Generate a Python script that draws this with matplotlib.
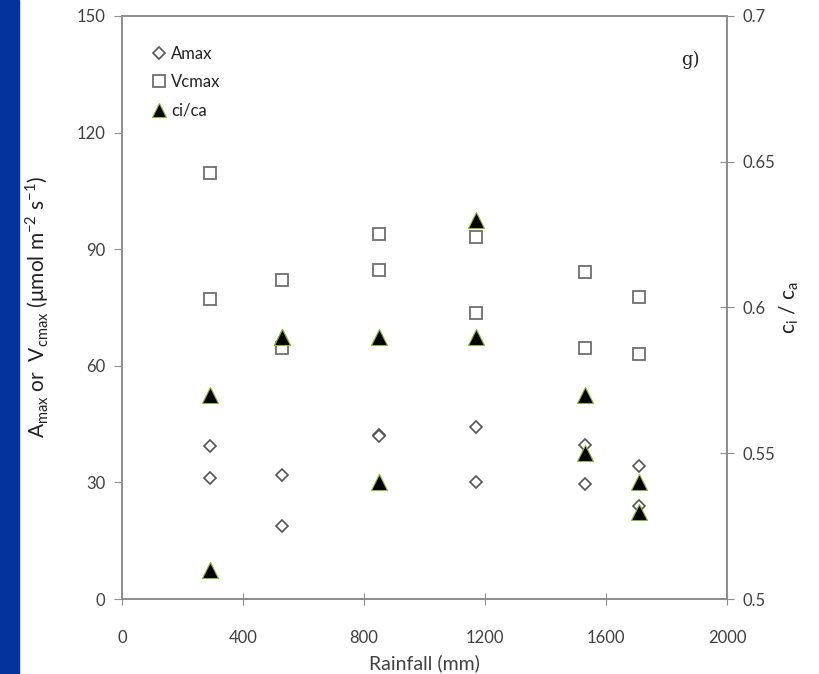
import matplotlib.pyplot as plt
from matplotlib.patches import Rectangle
from matplotlib.lines import Line2D

plt.rcParams['font.family'] = ['Lato', 'DejaVu Sans']

rain = [290, 530, 850, 1170, 1530, 1710]
amax_1 = [39.4, 31.9, 42.2, 44.2, 39.6, 34.2]
amax_2 = [31.1, 18.8, 41.9, 30.1, 29.6, 23.9]
vcmax_1 = [109.6, 82.1, 93.9, 93.1, 84.1, 77.7]
vcmax_2 = [77.2, 64.6, 84.6, 73.6, 64.6, 63.0]
cica_1 = [0.57, 0.59, 0.59, 0.63, 0.57, 0.54]
cica_2 = [0.51, 0.59, 0.54, 0.59, 0.55, 0.53]

grey = '#8c8c8c'
txt = '#404040'

fig = plt.figure(figsize=(8.2, 6.74), dpi=100)
fig.patches.append(Rectangle((0, 0), 19 / 820, 1, transform=fig.transFigure,
                             color='#03339c', zorder=0))
ax = fig.add_axes([122 / 820, 75 / 674, 605 / 820, 583 / 674])
ax2 = ax.twinx()

# left axis: Amax and Vcmax
ax.plot(rain, vcmax_1, 's', ms=9, mfc='white', mec='#6e6e6e', mew=1.3, ls='none')
ax.plot(rain, vcmax_2, 's', ms=9, mfc='white', mec='#6e6e6e', mew=1.3, ls='none')
ax.plot(rain, amax_1, 'D', ms=6.5, mfc='white', mec='#555555', mew=1.2, ls='none')
ax.plot(rain, amax_2, 'D', ms=6.5, mfc='white', mec='#555555', mew=1.2, ls='none')

# right axis: ci/ca
ax2.plot(rain, cica_1, '^', ms=11, mfc='black', mec='#8db33a', mew=0.8, ls='none')
ax2.plot(rain, cica_2, '^', ms=11, mfc='black', mec='#8db33a', mew=0.8, ls='none')

ax.set_xlim(0, 2000)
ax.set_ylim(0, 150)
ax.set_xticks([0, 400, 800, 1200, 1600, 2000])
ax.set_yticks([0, 30, 60, 90, 120, 150])
ax2.set_ylim(0.5, 0.7)
ax2.set_yticks([0.5, 0.55, 0.6, 0.65, 0.7])
ax2.set_yticklabels(['0.5', '0.55', '0.6', '0.65', '0.7'])

for a in (ax, ax2):
    for s in a.spines.values():
        s.set_color(grey)
        s.set_linewidth(1.2)
ax.tick_params(axis='y', direction='out', length=6, color=grey, labelsize=12,
               labelcolor=txt, pad=6)
ax.tick_params(axis='x', direction='inout', length=8, color=grey, labelsize=12,
               labelcolor=txt, pad=18)
ax2.tick_params(axis='y', direction='inout', length=10, color=grey, labelsize=12,
                labelcolor=txt, pad=6)

ax.set_xlabel('Rainfall (mm)', fontsize=14, color=txt, labelpad=6)
ax.set_ylabel(r'A$_{\mathregular{max}}$ or  V$_{\mathregular{cmax}}$ ($\mathregular{\mu}$mol m$^{\mathregular{-2}}$ s$^{\mathregular{-1}}$)',
              fontsize=15, color='#222222', labelpad=18)
ax2.set_ylabel(r'c$_{\mathregular{i}}$ / c$_{\mathregular{a}}$', fontsize=15,
               color='#222222', labelpad=2)

ax.text(0.955, 0.925, 'g)', transform=ax.transAxes, fontsize=13,
        family='DejaVu Serif', color='#222222', ha='right', va='center')

handles = [
    Line2D([], [], marker='D', ms=6.5, mfc='white', mec='#555555', mew=1.2, ls='none'),
    Line2D([], [], marker='s', ms=9, mfc='white', mec='#6e6e6e', mew=1.3, ls='none'),
    Line2D([], [], marker='^', ms=10, mfc='black', mec='#8db33a', mew=0.8, ls='none'),
]
ax2.legend(handles, ['Amax', 'Vcmax', 'ci/ca'], loc='upper left',
           bbox_to_anchor=(0.02, 0.975), frameon=False, fontsize=12,
           handletextpad=0.1, handlelength=1.2, labelspacing=0.75,
           labelcolor='#222222')

fig.savefig('out.png', dpi=100)
